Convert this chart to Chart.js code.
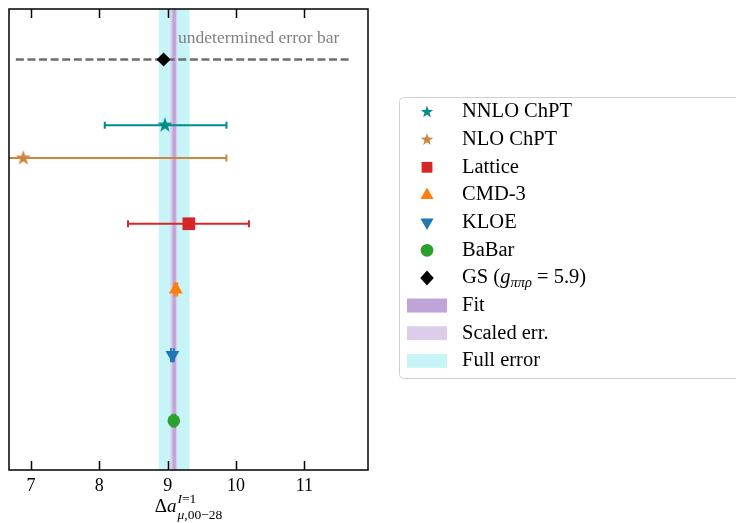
<!DOCTYPE html>
<html>
<head>
<meta charset="utf-8">
<script src="https://cdn.jsdelivr.net/npm/chart.js@4.4.0/dist/chart.umd.min.js"></script>
<style>
  html, body { margin: 0; padding: 0; background: #fff; }
  #wrap { width: 736px; height: 523px; }
</style>
</head>
<body>
<div id="wrap"><canvas id="chart" width="736" height="523"></canvas></div>
<script>
// values
const labels = ["NNLO ChPT", "NLO ChPT", "Lattice", "CMD-3", "KLOE", "BaBar", "GS"]
const centers = [8.96, 6.89, 9.31, 9.12, 9.07, 9.09, 8.94]
const errLow = [8.08, 3.92, 8.42, 9.1, 9.05, 9.07, null]
const errHigh = [9.86, 9.86, 10.19, 9.14, 9.09, 9.11, null]
const capSize = [3.5, 3.5, 3.5, 7, 7, 7, 0]
const rows = [4.5, 4, 3, 2, 1, 0, 5.5]
const colors = ["#008b8b", "#cd853f", "#d62728", "#ff7f0e", "#1f77b4", "#2ca02c", "#000000"]
const markers = ["star", "star", "rect", "triangle", "triangleDown", "circle", "rectRot"]
const gsRange = [6.78, 11.69]
const fullBand = [8.87, 9.32]
const scaledBand = [9.04, 9.14]
const fitBand = [9.07, 9.12]
const xTicks = [7, 8, 9, 10, 11]
const xRange = [6.68, 11.93]
const yRange = [-0.75, 6.27]

const bandColors = {
  full: "#c6f4f7",
  scaled: "#dccdeb",
  fit: "#bea4d7",
}
const serif = "'Liberation Serif', 'DejaVu Serif', serif"

function starImage(color, size) {
  const c = document.createElement("canvas")
  c.width = size
  c.height = size
  const g = c.getContext("2d")
  drawMarker(g, "star", size / 2, size / 2, color, size / 2)
  return c
}

function drawMarker(ctx, style, x, y, color, r) {
  ctx.save()
  ctx.fillStyle = color
  ctx.beginPath()
  if (style === "star") {
    for (let i = 0; i < 10; i++) {
      const a = -Math.PI / 2 + (i * Math.PI) / 5
      const rr = i % 2 ? r * 0.4 : r
      ctx.lineTo(x + rr * Math.cos(a), y + rr * Math.sin(a))
    }
  } else if (style === "rect") {
    ctx.rect(x - r * 0.72, y - r * 0.72, r * 1.44, r * 1.44)
  } else if (style === "triangle") {
    ctx.moveTo(x, y - r)
    ctx.lineTo(x + r * 0.87, y + r * 0.55)
    ctx.lineTo(x - r * 0.87, y + r * 0.55)
  } else if (style === "triangleDown") {
    ctx.moveTo(x, y + r)
    ctx.lineTo(x + r * 0.87, y - r * 0.55)
    ctx.lineTo(x - r * 0.87, y - r * 0.55)
  } else if (style === "circle") {
    ctx.arc(x, y, r * 0.85, 0, Math.PI * 2)
  } else if (style === "rectRot") {
    ctx.moveTo(x, y - r)
    ctx.lineTo(x + r * 0.9, y)
    ctx.lineTo(x, y + r)
    ctx.lineTo(x - r * 0.9, y)
  }
  ctx.closePath()
  ctx.fill()
  ctx.restore()
}

function buildDatasets() {
  const sets = []
  // markers first so they are drawn on top
  labels.forEach((label, i) => {
    const ds = {
      type: "scatter",
      label: label,
      data: [{ x: centers[i], y: rows[i] }],
      backgroundColor: colors[i],
      borderColor: colors[i],
      borderWidth: 0,
      pointRadius: 6.5,
      rotation: 0,
    }
    const m = markers[i]
    if (m === "star") {
      ds.pointStyle = starImage(colors[i], 16)
    } else if (m === "rect") {
      ds.pointStyle = "rect"
      ds.pointRadius = 9
    } else if (m === "triangle") {
      ds.pointStyle = "triangle"
      ds.pointRadius = 8
    } else if (m === "triangleDown") {
      ds.pointStyle = "triangle"
      ds.pointRadius = 8
      ds.rotation = 180
    } else if (m === "rectRot") {
      ds.pointStyle = "rectRot"
      ds.pointRadius = 7
    } else {
      ds.pointStyle = "circle"
      ds.pointRadius = 6.3
    }
    sets.push(ds)
  })
  // error bars
  labels.forEach((label, i) => {
    if (errLow[i] === null) return
    sets.push({
      type: "line",
      data: [{ x: errLow[i], y: rows[i] }, { x: errHigh[i], y: rows[i] }],
      borderColor: colors[i],
      borderWidth: 2,
      pointStyle: "line",
      pointRadius: capSize[i],
      pointBorderWidth: 2,
      pointBorderColor: colors[i],
      pointRotation: 90,
      fill: false,
    })
  })
  // undetermined error bar for GS
  sets.push({
    type: "line",
    data: [{ x: gsRange[0], y: rows[6] }, { x: gsRange[1], y: rows[6] }],
    borderColor: "#6e6e6e",
    borderWidth: 2.5,
    borderDash: [8, 3.6],
    pointRadius: 0,
    fill: false,
  })
  return sets
}

const bandsPlugin = {
  id: "bands",
  beforeDatasetsDraw(chart) {
    const { ctx, chartArea, scales } = chart
    const band = (range, color) => {
      const x0 = scales.x.getPixelForValue(range[0])
      const x1 = scales.x.getPixelForValue(range[1])
      ctx.fillStyle = color
      ctx.fillRect(x0, chartArea.top, x1 - x0, chartArea.bottom - chartArea.top)
    }
    ctx.save()
    band(fullBand, bandColors.full)
    band(scaledBand, bandColors.scaled)
    band(fitBand, bandColors.fit)
    ctx.restore()
  },
}

const framePlugin = {
  id: "frame",
  afterDatasetsDraw(chart) {
    const { ctx, chartArea, scales } = chart
    ctx.save()
    ctx.strokeStyle = "#000"
    ctx.lineWidth = 1.5
    ctx.strokeRect(chartArea.left, chartArea.top, chartArea.right - chartArea.left, chartArea.bottom - chartArea.top)
    scales.x.ticks.forEach((t) => {
      const x = Math.round(scales.x.getPixelForValue(t.value)) + 0.5
      ctx.beginPath()
      ctx.moveTo(x, chartArea.bottom)
      ctx.lineTo(x, chartArea.bottom - 9)
      ctx.moveTo(x, chartArea.top)
      ctx.lineTo(x, chartArea.top + 9)
      ctx.stroke()
    })
    ctx.restore()
  },
}

function drawRun(ctx, parts, x, y) {
  // parts: [text, font, dy]
  parts.forEach(([text, font, dy]) => {
    ctx.font = font
    ctx.fillText(text, x, y + (dy || 0))
    x += ctx.measureText(text).width
  })
  return x
}

function runWidth(ctx, parts) {
  let w = 0
  parts.forEach(([text, font]) => {
    ctx.font = font
    w += ctx.measureText(text).width
  })
  return w
}

const textPlugin = {
  id: "texts",
  afterDraw(chart) {
    const { ctx, chartArea } = chart
    ctx.save()
    ctx.textBaseline = "alphabetic"
    ctx.textAlign = "left"

    // annotation
    ctx.fillStyle = "#808080"
    ctx.font = "17.5px " + serif
    ctx.fillText("undetermined error bar", 178, 43)

    // axis title
    ctx.fillStyle = "#000"
    const big = "19px " + serif
    const bigIt = "italic 19px " + serif
    const small = "13.5px " + serif
    const smallIt = "italic 13.5px " + serif
    const head = [["Δ", big], ["a", bigIt]]
    const sup = [["I", smallIt], ["=1", small]]
    const sub = [["μ", smallIt], [",00−28", small]]
    const wHead = runWidth(ctx, head)
    const total = wHead + 1 + Math.max(runWidth(ctx, sup), runWidth(ctx, sub))
    const cx = (chartArea.left + chartArea.right) / 2
    let x = cx - total / 2
    const xs = drawRun(ctx, head, x, 512) + 1
    drawRun(ctx, sup, xs, 503)
    drawRun(ctx, sub, xs, 519)

    // legend box
    const lx = 399, ly = 97, lb = 378
    ctx.beginPath()
    ctx.roundRect(lx + 0.5, ly + 0.5, 360, lb - ly, 4)
    ctx.fillStyle = "rgba(255,255,255,0.8)"
    ctx.fill()
    ctx.strokeStyle = "#d0d0d0"
    ctx.lineWidth = 1
    ctx.stroke()

    const rowY = (k) => 112 + k * 27.65
    const font = "20.5px " + serif
    const fontIt = "italic 20.5px " + serif
    const subIt = "italic 14.5px " + serif
    ctx.fillStyle = "#000"
    labels.forEach((label, i) => {
      const y = rowY(i)
      drawMarker(ctx, markers[i], 427, y, colors[i], markers[i] === "star" ? 6.5 : 7.5)
      ctx.fillStyle = "#000"
      ctx.textBaseline = "middle"
      if (i === 6) {
        drawRun(ctx, [["GS (", font], ["g", fontIt], ["ππρ", subIt, 5], [" = 5.9)", font]], 462, y)
      } else {
        ctx.font = font
        ctx.fillText(label, 462, y)
      }
    })
    const patches = [["Fit", bandColors.fit], ["Scaled err.", bandColors.scaled], ["Full error", bandColors.full]]
    patches.forEach(([label, color], k) => {
      const y = rowY(7 + k)
      ctx.fillStyle = color
      ctx.fillRect(407, y - 7, 40, 14)
      ctx.fillStyle = "#000"
      ctx.font = font
      ctx.fillText(label, 462, y)
    })
    ctx.restore()
  },
}

new Chart(document.getElementById("chart"), {
  type: "scatter",
  data: { datasets: buildDatasets() },
  options: {
    responsive: false,
    animation: false,
    events: [],
    layout: { padding: { left: 8, top: 6, right: 368, bottom: 0 } },
    plugins: { legend: { display: false }, tooltip: { enabled: false } },
    scales: {
      x: {
        type: "linear",
        min: xRange[0],
        max: xRange[1],
        afterBuildTicks: (s) => { s.ticks = xTicks.map((v) => ({ value: v })) },
        afterFit: (s) => { s.height = 53 },
        grid: { display: false, drawTicks: false },
        border: { display: false },
        ticks: { color: "#000", padding: 5, maxRotation: 0, font: { family: serif, size: 18 } },
      },
      y: { type: "linear", min: yRange[0], max: yRange[1], display: false },
    },
  },
  plugins: [bandsPlugin, framePlugin, textPlugin],
})
</script>
</body>
</html>
